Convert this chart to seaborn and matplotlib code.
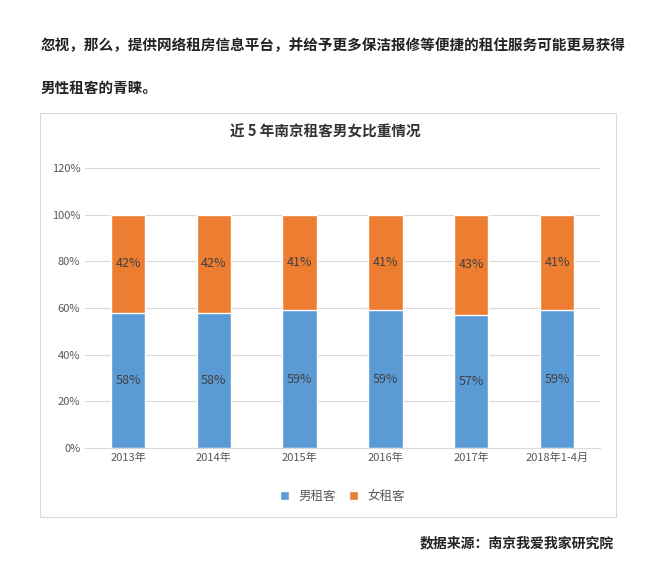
import matplotlib
matplotlib.use("Agg")
import matplotlib.pyplot as plt
import seaborn as sns
import pandas as pd
from matplotlib.patches import Rectangle

years = ["2013年", "2014年", "2015年", "2016年", "2017年", "2018年1-4月"]
male = [58, 58, 59, 59, 57, 59]
female = [42, 42, 41, 41, 43, 41]
yticks = [0, 20, 40, 60, 80, 100, 120]

sns.set_style("white")
plt.rcParams['font.family'] = ['Noto Sans CJK SC', 'DejaVu Sans']

fig = plt.figure(figsize=(6.5, 5.78), dpi=100)
fig.text(0.062, 0.922, "忽视，那么，提供网络租房信息平台，并给予更多保洁报修等便捷的租住服务可能更易获得",
         fontsize=10.5, fontweight='bold', color='#222222', va='center')
fig.text(0.062, 0.848, "男性租客的青睐。", fontsize=10.5, fontweight='bold', color='#222222', va='center')
fig.patches.append(Rectangle((0.062, 0.105), 0.885, 0.700, transform=fig.transFigure,
                             fill=False, edgecolor='#d9d9d9', lw=0.8))
fig.text(0.5, 0.773, "近 5 年南京租客男女比重情况", fontsize=10.5, fontweight='bold',
         color='#333333', ha='center', va='center')
fig.text(0.945, 0.060, "数据来源：南京我爱我家研究院", fontsize=10, fontweight='bold',
         color='#222222', ha='right', va='center')

ax = fig.add_axes([0.131, 0.225, 0.792, 0.484])
df = pd.DataFrame({"year": years, "male": male, "female": female})
df["total"] = df["male"] + df["female"]
sns.barplot(data=df, x="year", y="total", color="#ED7D31", width=0.4, ax=ax, label="女租客", saturation=1)
sns.barplot(data=df, x="year", y="male", color="#5B9BD5", width=0.4, ax=ax, label="男租客", saturation=1)
for i in range(len(years)):
    ax.text(i, male[i] / 2, f"{male[i]}%", ha='center', va='center', fontsize=9, color='#404040')
    ax.text(i, male[i] + female[i] / 2, f"{female[i]}%", ha='center', va='center', fontsize=9, color='#404040')
ax.set_ylim(0, 120)
ax.set_yticks(yticks)
ax.set_yticklabels([f"{t}%" for t in yticks], fontsize=8, color='#595959')
ax.tick_params(axis='x', labelsize=8, colors='#595959', length=0)
ax.tick_params(axis='y', length=0)
ax.set_xlabel(""); ax.set_ylabel("")
ax.yaxis.grid(True, color='#d9d9d9', lw=0.8)
ax.set_axisbelow(True)
for s in ['top', 'right', 'left']:
    ax.spines[s].set_visible(False)
ax.spines['bottom'].set_color('#d9d9d9')
h, l = ax.get_legend_handles_labels()
ax.legend(h[::-1], l[::-1], loc='upper center', bbox_to_anchor=(0.5, -0.11), ncol=2,
          frameon=False, fontsize=9, handlelength=0.7, handleheight=0.7, columnspacing=1.0,
          labelcolor='#595959')
fig.savefig("out.png", dpi=100)
